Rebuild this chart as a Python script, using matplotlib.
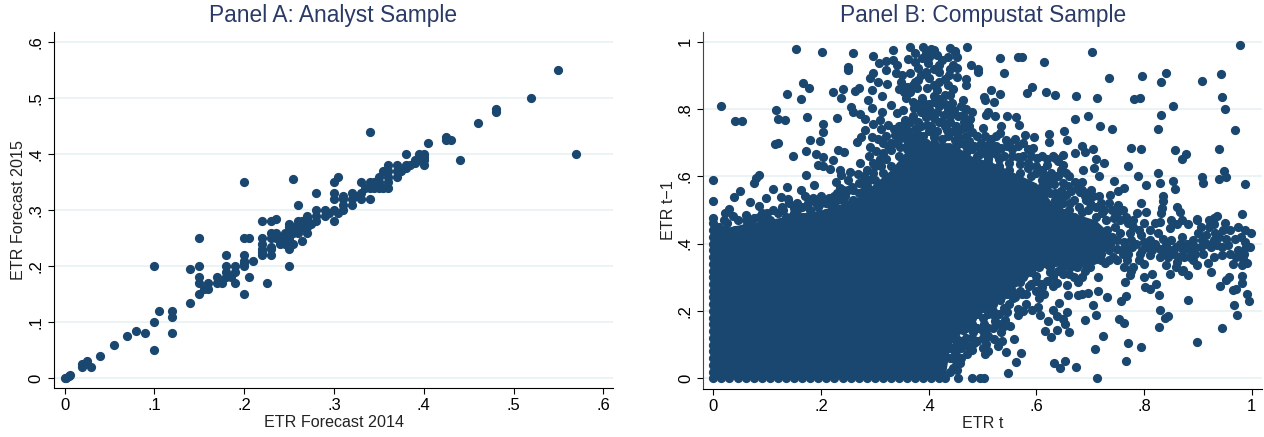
import matplotlib
matplotlib.use("Agg")
import matplotlib.pyplot as plt

plt.rcParams['font.family'] = ['Liberation Sans', 'DejaVu Sans']

navy = "#1a476f"
grid_col = "#eaf2f3"
title_col = "#2a3a66"

# Panel A: forecast pairs (2014, 2015)
a_low = [(0, 0), (.002, .001), (.005, .005), (.006, .006), (.02, .02), (.02, .025), (.022, .025), (.025, .03),
         (.03, .02), (.04, .04), (.055, .06), (.07, .075), (.08, .085), (.09, .08), (.1, .05), (.1, .1), (.1, .2),
         (.105, .12), (.12, .08), (.12, .11), (.12, .12), (.14, .135), (.14, .195), (.15, .15), (.15, .17),
         (.15, .18), (.15, .2), (.15, .25), (.155, .16), (.16, .16), (.16, .17), (.17, .17), (.17, .18), (.175, .17),
         (.18, .18), (.18, .19), (.18, .2), (.18, .22), (.185, .18), (.19, .17), (.19, .19), (.19, .2), (.2, .15),
         (.2, .2), (.2, .205), (.2, .21), (.2, .22), (.2, .25), (.2, .35), (.205, .18), (.205, .25), (.21, .21)]
a_mid = [(.22, .22), (.22, .225), (.22, .23), (.22, .24), (.22, .25), (.22, .28), (.225, .17), (.23, .22), (.23, .23),
         (.23, .235), (.23, .25), (.23, .26), (.23, .28), (.235, .285), (.235, .25), (.235, .26), (.24, .24), (.24, .25),
         (.245, .24), (.245, .25), (.245, .26), (.25, .2), (.25, .23), (.25, .25), (.25, .26), (.25, .27), (.25, .275),
         (.255, .24), (.255, .26), (.255, .27), (.255, .355), (.26, .26), (.26, .27), (.26, .28), (.26, .31), (.265, .245),
         (.265, .27), (.265, .28), (.27, .26), (.27, .27), (.27, .28), (.27, .285), (.27, .29), (.275, .275), (.28, .28),
         (.28, .29), (.28, .3), (.28, .33), (.29, .29), (.29, .3), (.295, .295), (.3, .28), (.3, .3), (.3, .32), (.3, .33),
         (.3, .35), (.305, .36), (.305, .295), (.31, .3), (.31, .31), (.31, .32), (.31, .325)]
a_high = [(.32, .31), (.32, .32), (.32, .33), (.325, .325), (.33, .32), (.33, .33), (.33, .35), (.335, .34), (.34, .32),
          (.34, .34), (.34, .35), (.34, .44), (.345, .34), (.345, .35), (.35, .34), (.35, .35), (.35, .36), (.355, .34),
          (.355, .37), (.36, .34), (.36, .35), (.36, .36), (.36, .37), (.36, .38), (.37, .36), (.37, .37), (.37, .38),
          (.375, .37), (.38, .375), (.38, .38), (.38, .4), (.385, .38), (.39, .385), (.39, .39), (.395, .39), (.395, .4),
          (.4, .38), (.4, .39), (.4, .395), (.4, .4), (.405, .42), (.425, .425), (.425, .43), (.43, .425), (.44, .39),
          (.46, .455), (.48, .475), (.48, .48), (.52, .5), (.55, .55), (.57, .4)]

# Panel B: the middle is saturated, no single point can be read there, so it
# is kept as an outline of the solid area (x, upper, lower)
dense_x = [0, .03, .06, .1, .13, .16, .2, .24, .27, .3, .33, .36, .4, .43, .44, .48, .52, .56, .6, .63, .67, .71, .73]
dense_high = [.46, .45, .46, .47, .48, .49, .5, .52, .54, .58, .62, .68, .7, .7, .7, .66, .64, .61, .58, .52, .49, .47, .44]
dense_low = [0, 0, 0, 0, 0, 0, 0, 0, 0, 0, 0, 0, 0, 0, .1, .17, .22, .27, .32, .34, .35, .36, .38]

# Panel B: points along the rim of the solid area
b_left_col = [(0, .0), (0, .02), (0, .04), (0, .06), (0, .08), (0, .1), (0, .12), (0, .14), (0, .16), (0, .18), (0, .2),
              (0, .22), (0, .24), (0, .26), (0, .28), (0, .3), (0, .32), (0, .34), (0, .36), (0, .38), (0, .4), (0, .42),
              (0, .44), (0, .46)]
b_bottom_row = [(.015, 0), (.03, 0), (.045, 0), (.06, 0), (.075, 0), (.09, 0), (.105, 0), (.12, 0), (.135, 0), (.15, 0),
                (.165, 0), (.18, 0), (.195, 0), (.21, 0), (.225, 0), (.24, 0), (.255, 0), (.27, 0), (.285, 0), (.3, 0),
                (.315, 0), (.33, 0), (.345, 0), (.36, 0), (.375, 0), (.39, 0), (.405, 0), (.42, 0), (.43, 0)]
b_top_rim = [(.01, .45), (.025, .46), (.04, .44), (.06, .45), (.075, .44), (.09, .46), (.105, .47), (.12, .46), (.135, .48),
             (.15, .49), (.165, .48), (.18, .5), (.195, .51), (.21, .49), (.225, .52), (.24, .53), (.255, .52), (.27, .55),
             (.285, .57), (.3, .59), (.315, .61), (.33, .63), (.345, .66), (.36, .68), (.375, .69), (.39, .7), (.41, .69),
             (.43, .68), (.45, .69), (.47, .67), (.49, .66), (.51, .65), (.53, .63), (.55, .62), (.57, .61), (.59, .6), (.61, .57)]
b_low_rim = [(.445, .12), (.45, .16), (.47, .19), (.49, .21), (.51, .24), (.53, .27), (.55, .29), (.57, .32), (.59, .34),
             (.61, .355), (.64, .36), (.68, .365), (.72, .37), (.56, .285), (.575, .3), (.59, .315), (.605, .33), (.62, .34),
             (.635, .345), (.65, .345), (.665, .345), (.68, .35), (.695, .35), (.71, .355), (.57, .285), (.6, .305),
             (.625, .315), (.645, .34)]

# Panel B: single points above the solid area, left half
b_upper_left = [(.014, .809), (.041, .763), (.053, .765), (.154, .979), (.201, .97), (.259, .965), (.251, .926), (.251, .916),
                (.166, .876), (.178, .862), (.136, .845), (.162, .83), (.223, .851), (.241, .858), (.237, .832), (.263, .854),
                (.271, .861), (.116, .797), (.12, .769), (.134, .768), (.174, .776), (.23, .772), (.204, .755), (.204, .731),
                (.18, .709), (.198, .704), (.115, .697), (.12, .699), (.148, .659), (.172, .674), (.191, .666), (.204, .656),
                (.223, .648), (.232, .677), (.243, .673), (.194, .633), (.204, .631), (.217, .622), (.172, .605), (.085, .603),
                (.08, .594), (.076, .581), (0, .588), (0, .528), (0, .476), (.05, .555), (.039, .537), (.068, .523), (.084, .513),
                (.098, .534), (.11, .562), (.136, .569), (.162, .56), (.187, .573), (.126, .538), (.139, .533), (.03, .503),
                (.022, .492), (.037, .482), (.061, .485), (.076, .476), (.091, .492), (.127, .51), (.149, .505), (.185, .535),
                (.2, .54), (.218, .515), (.235, .619), (.238, .604), (.253, .612), (.269, .607), (.228, .584), (.251, .589),
                (.257, .569), (.235, .564), (.229, .55), (.245, .54), (.26, .53), (.277, .584), (.28, .559), (.297, .609),
                (.272, .638), (.291, .688), (.266, .703), (.274, .718), (.281, .738), (.295, .716), (.29, .66), (.302, .676),
                (.297, .639), (.312, .629), (.33, .678), (.311, .74), (.297, .755), (.31, .767), (.282, .769), (.272, .785),
                (.26, .792), (.256, .807), (.294, .802), (.313, .79), (.33, .812), (.341, .787), (.325, .753), (.337, .723),
                (.353, .753), (.356, .767), (.353, .797), (.372, .802), (.39, .797), (.409, .772), (.428, .782), (.447, .797),
                (.396, .753), (.378, .728), (.359, .708), (.409, .718), (.434, .738), (.449, .708), (.347, .688), (.359, .738),
                (.287, .827), (.294, .856), (.291, .891), (.297, .908), (.305, .881), (.313, .837), (.322, .874), (.32, .916),
                (.307, .936), (.321, .943), (.333, .944), (.341, .931), (.34, .906), (.297, .957), (.333, .975), (.357, .832),
                (.348, .881), (.359, .866), (.365, .906), (.362, .948), (.365, .985), (.375, .965), (.39, .985), (.404, .978),
                (.387, .95), (.381, .921), (.399, .936), (.415, .96), (.424, .946), (.419, .909), (.4, .891), (.381, .886),
                (.378, .861), (.397, .861), (.415, .856), (.43, .842), (.409, .837), (.387, .832), (.443, .817), (.437, .901),
                (.449, .97), (.446, .931), (.452, .896)]

# Panel B: the crowded cone above the solid area
b_cone = [(.305, .71), (.315, .7), (.32, .72), (.33, .7), (.335, .74), (.345, .71), (.35, .73), (.36, .69), (.365, .72), (.37, .7),
          (.375, .74), (.38, .71), (.385, .75), (.39, .72), (.395, .7), (.4, .735), (.405, .75), (.41, .7), (.415, .735), (.42, .76),
          (.425, .71), (.43, .75), (.435, .72), (.44, .76), (.445, .735), (.45, .75), (.455, .72), (.365, .76), (.37, .78), (.38, .76),
          (.385, .79), (.395, .775), (.4, .8), (.405, .785), (.415, .79), (.42, .81), (.425, .765), (.435, .8), (.44, .78), (.455, .78),
          (.37, .82), (.38, .815), (.39, .82), (.4, .815), (.41, .82), (.42, .83), (.43, .815), (.44, .84), (.445, .86), (.435, .87),
          (.42, .88), (.41, .87), (.43, .89), (.44, .92), (.42, .93), (.41, .92), (.395, .91), (.385, .9), (.375, .88), (.37, .87),
          (.365, .85), (.355, .85), (.345, .86), (.35, .9), (.375, .94), (.4, .955), (.41, .975), (.395, .965), (.435, .955), (.44, .98),
          (.345, .75), (.355, .72), (.34, .7), (.325, .69), (.315, .67), (.32, .65), (.31, .65), (.3, .63), (.285, .62), (.28, .6),
          (.29, .59), (.27, .58), (.26, .56), (.25, .56), (.24, .55), (.23, .53), (.22, .53), (.21, .52)]

# Panel B: single points above the solid area, right half
b_upper_right = [(.471, .985), (.449, .972), (.453, .953), (.479, .931), (.492, .918), (.492, .909), (.452, .921), (.469, .888),
                 (.469, .871), (.532, .951), (.565, .955), (.573, .954), (.614, .939), (.54, .906), (.703, .969), (.978, .99),
                 (.735, .893), (.797, .898), (.84, .907), (.832, .881), (.907, .883), (.942, .904), (.945, .835), (.95, .8),
                 (.854, .808), (.832, .782), (.826, .741), (.968, .738), (.516, .857), (.532, .845), (.502, .835), (.505, .827),
                 (.521, .822), (.463, .826), (.591, .864), (.583, .848), (.618, .85), (.634, .84), (.673, .839), (.712, .833),
                 (.782, .83), (.793, .832), (.546, .778), (.562, .776), (.567, .753), (.523, .779), (.507, .783), (.511, .792),
                 (.463, .783), (.476, .769), (.469, .746), (.5, .743), (.534, .748), (.533, .728), (.671, .77), (.696, .78),
                 (.719, .75), (.741, .739), (.651, .735), (.624, .725), (.624, .701), (.595, .717), (.579, .723), (.656, .708),
                 (.684, .691), (.69, .673), (.672, .67), (.706, .681), (.776, .684), (.794, .682), (.858, .678), (.877, .666),
                 (.871, .651), (.939, .68), (.711, .65), (.725, .64), (.771, .631), (.707, .624), (.686, .619), (.717, .602),
                 (.788, .602), (.826, .61), (.907, .599), (.909, .581), (.949, .617), (.952, .599), (.939, .592), (.987, .577),
                 (.853, .587), (.83, .579), (.803, .573), (.744, .587), (.857, .562), (.762, .564), (.752, .557), (.701, .559),
                 (.836, .54), (.835, .528), (.794, .52), (.862, .51), (.867, .495), (.834, .505), (.832, .49), (.981, .488),
                 (.935, .482), (.929, .475), (.898, .472), (.804, .493), (.786, .49), (.767, .48), (.752, .515), (.737, .545),
                 (.717, .54), (.693, .53), (.663, .522), (.685, .495), (.721, .492), (.746, .5), (.653, .49), (.669, .48),
                 (.65, .581), (.672, .584), (.684, .584), (.659, .571), (.681, .554), (.633, .576), (.634, .55), (.644, .535),
                 (.616, .564), (.613, .54), (.65, .663), (.635, .653), (.65, .634), (.619, .634), (.627, .611), (.601, .653),
                 (.585, .624), (.566, .658), (.594, .683), (.543, .708), (.512, .696), (.497, .698)]

# Panel B: crowded shoulder right of the cone
b_shoulder = [(.46, .81), (.47, .8), (.48, .79), (.465, .76), (.475, .75), (.48, .73), (.49, .72), (.46, .74), (.455, .71), (.47, .72),
              (.46, .7), (.475, .705), (.485, .69), (.495, .68), (.505, .68), (.515, .675), (.525, .69), (.535, .685), (.545, .69),
              (.555, .68), (.565, .69), (.575, .7), (.585, .68), (.59, .66), (.575, .66), (.555, .66), (.54, .66), (.525, .665),
              (.51, .66), (.495, .665), (.48, .68), (.47, .69), (.6, .63), (.61, .62), (.62, .6), (.625, .59), (.6, .61), (.585, .64),
              (.57, .635), (.55, .64), (.53, .65), (.51, .64), (.525, .72), (.515, .71), (.505, .72), (.55, .7), (.56, .71), (.61, .66),
              (.62, .65), (.63, .66), (.64, .645), (.645, .62), (.635, .6), (.615, .6), (.61, .59), (.64, .6), (.655, .61),
              (.61, .56), (.62, .57), (.625, .55), (.635, .53), (.645, .555), (.65, .52), (.655, .545), (.665, .555), (.67, .53),
              (.675, .565), (.685, .56), (.69, .54), (.695, .55), (.7, .52), (.705, .54), (.71, .51), (.72, .52), (.725, .5), (.735, .52),
              (.74, .5), (.75, .49), (.755, .47), (.76, .5), (.77, .46), (.78, .47), (.68, .51), (.66, .5), (.64, .51), (.695, .5),
              (.71, .48), (.73, .47), (.745, .475), (.66, .6)]

# Panel B: single points below the solid area
b_lower = [(.712, 0), (.48, 0), (.495, 0), (.502, 0), (.455, .002), (.548, .016), (.562, .047), (.632, .044), (.644, .03),
           (.653, .051), (.673, .034), (.766, .051), (.708, .086), (.77, .105), (.795, .092), (.898, .107), (.723, .127),
           (.944, .149), (.827, .151), (.616, .139), (.628, .122), (.638, .144), (.661, .136), (.544, .078), (.571, .075),
           (.505, .072), (.511, .08), (.471, .073), (.559, .118), (.521, .118), (.536, .111), (.528, .095), (.484, .105),
           (.507, .103), (.474, .093), (.449, .078), (.458, .044), (.452, .024), (.551, .155), (.535, .138), (.521, .187),
           (.542, .172), (.524, .17), (.502, .162), (.483, .138), (.464, .143), (.449, .162), (.508, .207), (.566, .187),
           (.566, .207), (.546, .197), (.557, .237), (.532, .232), (.622, .171), (.653, .162), (.65, .177), (.656, .197),
           (.638, .185), (.631, .202), (.642, .224), (.591, .202), (.603, .212), (.605, .238), (.606, .189), (.574, .251),
           (.586, .274), (.608, .281), (.63, .274), (.638, .283), (.659, .247), (.657, .276), (.678, .247), (.684, .251),
           (.696, .253), (.715, .259), (.732, .242), (.706, .217), (.711, .188), (.69, .174), (.753, .176), (.763, .164),
           (.757, .23), (.767, .245), (.765, .286), (.774, .306), (.8, .301), (.802, .271), (.811, .266), (.822, .281),
           (.814, .311), (.827, .247), (.83, .204), (.839, .18), (.844, .184), (.882, .232), (.941, .274), (.967, .218),
           (.972, .187), (.994, .229), (.991, .249), (.966, .261), (.971, .266), (.981, .284), (.981, .303), (.958, .301),
           (.953, .291)]

# Panel B: crowded fringe under the solid area
b_under = [(.46, .15), (.47, .15), (.48, .16), (.49, .15), (.5, .14), (.51, .15), (.52, .15), (.53, .16), (.54, .155), (.47, .12),
           (.46, .11), (.45, .12), (.48, .12), (.49, .11), (.5, .12), (.51, .125), (.44, .09), (.45, .1), (.46, .09), (.47, .1), (.48, .085),
           (.5, .09), (.44, .06), (.45, .05), (.445, .03), (.46, .06), (.44, .02), (.45, .07), (.47, .2), (.46, .18), (.48, .18), (.5, .18),
           (.52, .2), (.53, .19), (.54, .21), (.55, .22), (.56, .24), (.57, .26), (.58, .25), (.59, .28), (.6, .29), (.61, .27), (.62, .29),
           (.63, .3), (.6, .26), (.615, .25), (.58, .22), (.575, .2), (.535, .24), (.545, .25), (.555, .26), (.52, .22), (.51, .19),
           (.5, .21), (.49, .19)]

# Panel B: the band around .4 that runs out to the right edge
b_band = [(.715, .301), (.684, .301), (.678, .286), (.65, .311), (.631, .311), (.662, .331), (.706, .35), (.728, .341),
          (.743, .36), (.762, .331), (.768, .35), (.811, .365), (.84, .336), (.848, .311), (.873, .321), (.882, .306),
          (.898, .336), (.924, .316), (.919, .341), (.861, .346), (.83, .36), (.793, .37), (.885, .36), (.929, .36),
          (.944, .365), (.984, .355), (.992, .341), (.981, .336), (.975, .38), (.997, .39), (.988, .405), (.968, .415),
          (.999, .43), (.988, .44), (.953, .415), (.947, .44), (.932, .43), (.929, .459), (.935, .395), (.916, .4),
          (.901, .43), (.907, .41), (.894, .39), (.867, .4), (.873, .38), (.848, .38), (.836, .415), (.848, .445),
          (.861, .459), (.882, .459), (.898, .469), (.811, .44), (.795, .425), (.811, .41), (.83, .464), (.774, .43),
          (.762, .405), (.731, .44), (.746, .45), (.768, .469), (.796, .38), (.777, .39), (.749, .385), (.737, .4),
          (.718, .38), (.703, .39), (.72, .43), (.725, .41), (.73, .42), (.735, .38), (.74, .42), (.75, .41), (.755, .43),
          (.76, .37), (.765, .39), (.77, .37), (.775, .41), (.78, .45), (.785, .4), (.79, .44), (.8, .405), (.805, .39),
          (.815, .38), (.82, .4), (.825, .43), (.83, .385), (.835, .375), (.84, .395), (.845, .36), (.85, .41), (.855, .37),
          (.86, .39), (.865, .36), (.87, .42), (.875, .36), (.88, .4), (.885, .38), (.89, .41), (.895, .37), (.905, .39),
          (.91, .37), (.915, .425), (.92, .45), (.925, .39), (.93, .41), (.94, .42), (.945, .39), (.955, .395), (.96, .37),
          (.965, .34), (.97, .36), (.975, .45), (.98, .42), (.985, .37), (.99, .39), (.95, .46), (.96, .44), (.92, .47),
          (.905, .45), (.87, .47), (.85, .47), (.82, .46), (.8, .46), (.78, .33), (.775, .32), (.79, .35), (.8, .34), (.86, .33),
          (.87, .32), (.89, .35), (.75, .35), (.735, .35), (.72, .35), (.7, .33), (.69, .34), (.675, .33), (.69, .32), (.67, .3),
          (.66, .31), (.64, .32), (.625, .33), (.65, .33)]

# Panel B: loose points just over the left part of the solid area
b_left_top = [(.02, .47), (.045, .47), (.07, .46), (.085, .48), (.1, .49), (.11, .5), (.12, .49), (.13, .5), (.145, .48), (.155, .5),
              (.165, .51), (.175, .52), (.19, .52), (.2, .52), (.215, .535), (.225, .54), (.24, .56), (.1, .47), (.06, .47), (.14, .52),
              (.155, .52), (.17, .54)]

a_ticks = [0, .1, .2, .3, .4, .5, .6]
a_tick_labels = ["0", ".1", ".2", ".3", ".4", ".5", ".6"]
b_ticks = [0, .2, .4, .6, .8, 1]
b_tick_labels = ["0", ".2", ".4", ".6", ".8", "1"]

W, H = 1264, 437
fig = plt.figure(figsize=(W / 100, H / 100), dpi=100, facecolor="white")
ax_a = fig.add_axes([54 / W, 1 - 388 / H, (613 - 54) / W, (388 - 32) / H])
ax_b = fig.add_axes([703.3 / W, 1 - 388.7 / H, (1262 - 703.3) / W, (388.7 - 32) / H])


def style_axes(ax, xticks, xlabels, yticks, ylabels, spine_col):
    ax.set_xticks(xticks)
    ax.set_xticklabels(xlabels)
    ax.set_yticks(yticks)
    ax.set_yticklabels(ylabels, rotation=90, va="center")
    ax.tick_params(length=4.5, width=0.8, labelsize=12, pad=3, colors="black")
    ax.grid(axis="y", color=grid_col, linewidth=1.3)
    ax.set_axisbelow(True)
    ax.spines["top"].set_visible(False)
    ax.spines["right"].set_visible(False)
    ax.spines["left"].set_color(spine_col)
    ax.spines["bottom"].set_color("black")


# Panel A
for part in (a_low, a_mid, a_high):
    xs, ys = zip(*part)
    ax_a.scatter(xs, ys, s=44, color=navy, linewidths=0, clip_on=False, zorder=3)
style_axes(ax_a, a_ticks, a_tick_labels, a_ticks, a_tick_labels, "black")
ax_a.set_xlim(-0.0117, 0.6108)
ax_a.set_ylim(-0.0173, 0.618)
ax_a.set_xlabel("ETR Forecast 2014", fontsize=11.6, labelpad=1, color="#222222")
ax_a.set_ylabel("ETR Forecast 2015", fontsize=11.6, labelpad=1.5, color="#222222")
ax_a.set_title("Panel A: Analyst Sample", fontsize=16.4, color=title_col, pad=7.5)

# Panel B
ax_b.fill_between(dense_x, dense_low, dense_high, color=navy, linewidth=0, zorder=3)
for part in (b_left_col, b_bottom_row, b_top_rim, b_low_rim, b_upper_left, b_cone, b_upper_right,
             b_shoulder, b_lower, b_under, b_band, b_left_top):
    xs, ys = zip(*part)
    ax_b.scatter(xs, ys, s=44, color=navy, linewidths=0, clip_on=False, zorder=3)
style_axes(ax_b, b_ticks, b_tick_labels, b_ticks, b_tick_labels, "#444444")
ax_b.set_xlim(-0.0186, 1.019)
ax_b.set_ylim(-0.031, 1.0285)
ax_b.set_xlabel("ETR t", fontsize=11.6, labelpad=1, color="#222222")
ax_b.set_ylabel("ETR t\u22121", fontsize=11.6, labelpad=1.5, color="#222222")
ax_b.set_title("Panel B: Compustat Sample", fontsize=16.4, color=title_col, pad=7.5)

fig.savefig("out.png", dpi=100)
